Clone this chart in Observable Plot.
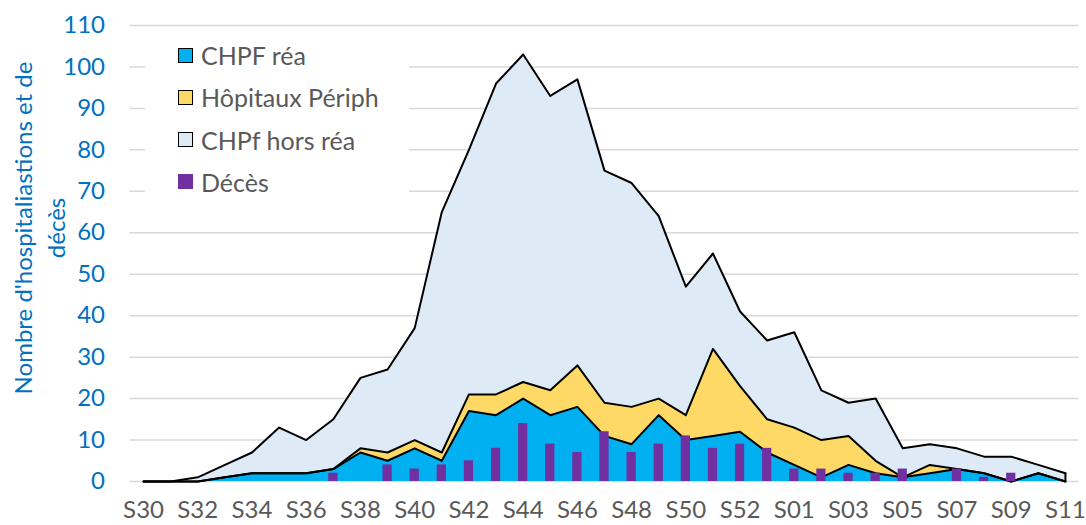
<!DOCTYPE html>
<html>
<head>
<meta charset="utf-8">
<script src="https://cdn.jsdelivr.net/npm/d3@7"></script>
<script src="https://cdn.jsdelivr.net/npm/@observablehq/plot@0.6"></script>
<style>
  html, body { margin: 0; padding: 0; background: #fff; }
  #chart { position: relative; width: 1086px; height: 525px; font-family: Lato, "Open Sans", sans-serif; }
  #legend { position: absolute; left: 145px; top: 34px; width: 264px; height: 170px; background: #fff; }
  .item { position: absolute; left: 33px; height: 26px; display: flex; align-items: center; font-size: 25px; color: #595959; white-space: nowrap; }
  .sw { width: 13px; height: 13px; border: 1.5px solid #000; margin-right: 8px; flex: none; }
  .ytitle { position: absolute; top: 228px; transform: translate(-50%, -50%) rotate(-90deg); white-space: nowrap; font-size: 24px; color: #0070C0; }
</style>
</head>
<body>
<div id="chart"></div>
<script>
const weeks = ["S30","S31","S32","S33","S34","S35","S36","S37","S38","S39","S40","S41","S42","S43","S44","S45","S46","S47","S48","S49","S50","S51","S52","S53","S01","S02","S03","S04","S05","S06","S07","S08","S09","S10","S11"];
const chpfRea     = [0,0,0,1,2,2,2,3,7,5,8,5,17,16,20,16,18,11,9,16,10,11,12,7,4,1,4,2,1,2,3,2,0,2,0];
const hopPeriph   = [0,0,0,0,0,0,0,0,1,2,2,2,4,5,4,6,10,8,9,4,6,21,11,8,9,9,7,3,0,2,0,0,0,0,0];
const chpfHorsRea = [0,0,1,3,5,11,8,12,17,20,27,58,59,75,79,71,69,56,54,44,31,23,18,19,23,12,8,15,7,5,5,4,6,2,2];
const deces       = [0,0,0,0,0,0,0,2,0,4,3,4,5,8,14,9,7,12,7,9,11,8,9,8,3,3,2,2,3,0,3,1,2,0,0];
const seriesNames = ["CHPF réa", "Hôpitaux Périph", "CHPf hors réa"];
const seriesColors = ["#00B0F0", "#FFD966", "#DEEAF6"];
const decesName = "Décès";
const decesColor = "#7030A0";
const yTicks = [0,10,20,30,40,50,60,70,80,90,100,110];
const xTicks = weeks.map((w, i) => i).filter(i => i % 2 === 0);

const seriesValues = [chpfRea, hopPeriph, chpfHorsRea];
const stacked = [];
seriesNames.forEach((name, s) => {
  weeks.forEach((w, i) => stacked.push({i, week: w, series: name, value: seriesValues[s][i]}));
});
const decesData = weeks.map((w, i) => ({i, week: w, value: deces[i]}));
const lastIdx = weeks.length - 1;
const lastTotal = [{i: lastIdx, top: chpfRea[lastIdx] + hopPeriph[lastIdx] + chpfHorsRea[lastIdx]}];
const halfBar = 0.17;

const plot = Plot.plot({
  width: 1086,
  height: 525,
  marginLeft: 129.5,
  marginRight: 7.5,
  marginTop: 25,
  marginBottom: 44,
  style: {fontFamily: "Lato, 'Open Sans', sans-serif", fontSize: "24px", background: "#fff"},
  x: {type: "linear", domain: [-0.5, weeks.length - 0.5]},
  y: {domain: [0, 110]},
  color: {domain: seriesNames, range: seriesColors},
  marks: [
    Plot.ruleY(yTicks, {stroke: "#D9D9D9", strokeWidth: 1.5}),
    Plot.areaY(stacked, {x: "i", y: "value", z: "series", fill: "series", order: seriesNames, curve: "linear"}),
    Plot.lineY(stacked, Plot.stackY2({x: "i", y: "value", z: "series", order: seriesNames, stroke: "#000", strokeWidth: 2, curve: "linear"})),
    Plot.ruleX(lastTotal, {x: "i", y1: 0, y2: "top", stroke: "#000", strokeWidth: 2}),
    Plot.rectY(decesData, {x1: d => d.i - halfBar, x2: d => d.i + halfBar, y: "value", fill: decesColor}),
    Plot.axisX(xTicks, {tickFormat: i => weeks[i], tickSize: 0, tickPadding: 19, color: "#595959", fontSize: 24, label: null}),
    Plot.axisY(yTicks, {tickSize: 0, tickPadding: 25, color: "#0070C0", fontSize: 24, label: null})
  ]
});

const chart = document.getElementById("chart");
chart.appendChild(plot);

const legend = document.createElement("div");
legend.id = "legend";
const legendItems = seriesNames.map((n, k) => ({name: n, color: seriesColors[k], border: true}))
  .concat([{name: decesName, color: decesColor, border: false}]);
legendItems.forEach((it, k) => {
  const row = document.createElement("div");
  row.className = "item";
  row.style.top = (8 + k * 42.3) + "px";
  const sw = document.createElement("span");
  sw.className = "sw";
  sw.style.background = it.color;
  if (!it.border) sw.style.border = "1.5px solid " + it.color;
  const tx = document.createElement("span");
  tx.textContent = it.name;
  row.appendChild(sw);
  row.appendChild(tx);
  legend.appendChild(row);
});
chart.appendChild(legend);

const yTitleLines = ["Nombre d'hospitaliastions et de", "décès"];
[22, 55].forEach((x, k) => {
  const t = document.createElement("div");
  t.className = "ytitle";
  t.style.left = x + "px";
  t.textContent = yTitleLines[k];
  chart.appendChild(t);
});
</script>
</body>
</html>
